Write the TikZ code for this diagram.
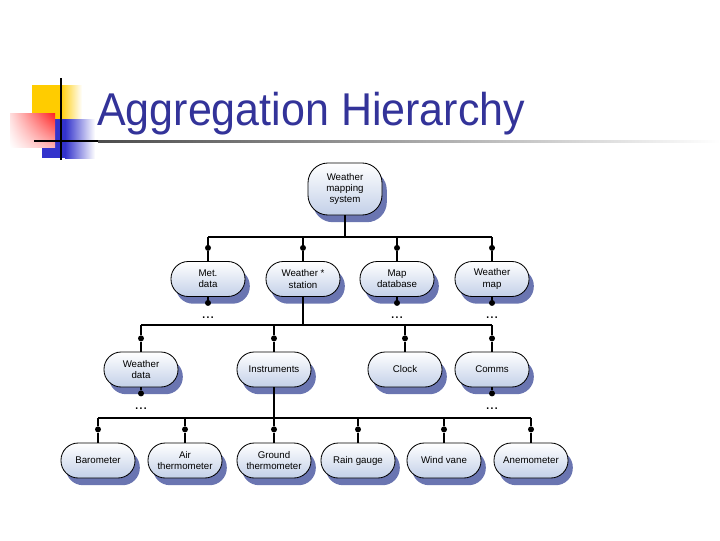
\documentclass[tikz,border=0pt]{standalone}
\usepackage{fontspec}
\setmainfont{Liberation Sans}
\usetikzlibrary{shadows,shadings}
\definecolor{titleblue}{HTML}{333399}
\definecolor{boxblue}{HTML}{C3D0E8}
\definecolor{shadowblue}{HTML}{5A66A8}
\definecolor{logoyellow}{HTML}{FFCC00}
\definecolor{logoblue}{HTML}{3333CC}
\definecolor{logored}{HTML}{FF2020}

\begin{document}
\begin{tikzpicture}[x=0.025cm, y=-0.025cm,
  part/.style={draw=black, line width=0.6pt, rounded corners=0.43cm,
    top color=white, bottom color=boxblue, minimum width=1.85cm,
    minimum height=0.875cm, align=center, inner sep=1pt,
    font=\fontsize{6.9}{8}\selectfont,
    drop shadow={shadow xshift=0.12cm, shadow yshift=-0.18cm, fill=shadowblue, opacity=0.9}},
  link/.style={line width=1pt},
  joint/.style={circle, fill=black, inner sep=0pt, minimum size=0.15cm},
  more/.style={font=\fontsize{11}{11}\selectfont, inner sep=0pt}]
  \useasboundingbox (0,0) rectangle (720,540);
  % Logo blocks
  \fill[logoyellow] (32,85) rectangle (60,119);
  \shade[left color=logoyellow, right color=white] (60,85) rectangle (82,119);
  \fill[logoblue] (42,119) rectangle (65,158);
  \shade[left color=logoblue, right color=white] (65,119) rectangle (95,158);
  \shade[upper left=logored!15, upper right=logored, lower left=white, lower right=logored!35] (10,113) rectangle (55,147);
  \draw[line width=2pt] (61,78) -- (61,160);
  \draw[line width=2pt] (34,141) -- (98,141);
  \shade[left color=gray!60!black, right color=white] (98,140) rectangle (720,142.5);
  % Title
  \node[anchor=base west, inner sep=0pt, text=titleblue, font=\fontsize{32.7}{36}\selectfont]
    (title) at (97,125) {\scalebox{0.935}[1]{Aggregation Hierarchy}};
  % Parts
  \node[part, minimum height=1.3cm, rounded corners=0.5cm] (wms) at (345,189) {Weather\\mapping\\system};
  \node[part] (met) at (208,279) {Met.\\data};
  \node[part] (station) at (303,279) {Weather *\\station};
  \node[part] (mapdb) at (397,279) {Map\\database};
  \node[part] (wmap) at (492,279) {Weather\\map};
  \node[part] (wdata) at (141,369.5) {Weather\\data};
  \node[part] (instr) at (274,369.5) {Instruments};
  \node[part] (clock) at (405,369.5) {Clock};
  \node[part] (comms) at (492,369.5) {Comms};
  \node[part] (baro) at (98,460.5) {Barometer};
  \node[part] (airth) at (185,460.5) {Air\\thermometer};
  \node[part] (groundth) at (274,460.5) {Ground\\thermometer};
  \node[part] (rain) at (358,460.5) {Rain gauge};
  \node[part] (vane) at (444,460.5) {Wind vane};
  \node[part] (anemo) at (531,460.5) {Anemometer};
  % Buses
  \coordinate (bus1) at (345,237);
  \coordinate (bus2) at (303,325);
  \coordinate (bus3) at (274,418);
  \draw[link] (wms) -- (bus1);
  \draw[link] (met.north |- bus1) -- (wmap.north |- bus1);
  \draw[link] (station) -- (bus2);
  \draw[link] (wdata.north |- bus2) -- (comms.north |- bus2);
  \draw[link] (instr) -- (bus3);
  \draw[link] (baro.north |- bus3) -- (anemo.north |- bus3);
  % Drops with joints
  \foreach \n/\b in {met/bus1, station/bus1, mapdb/bus1, wmap/bus1,
                     wdata/bus2, instr/bus2, clock/bus2, comms/bus2,
                     baro/bus3, airth/bus3, groundth/bus3, rain/bus3, vane/bus3, anemo/bus3} {
    \node[joint] (\n-top) at ([yshift=0.33cm]\n.north) {};
    \draw[link] (\n.north |- \b) -- (\n-top) -- (\n);
  }
  % Parts that go on further
  \foreach \n in {met, mapdb, wmap, wdata, comms} {
    \node[joint] (\n-bot) at ([yshift=-0.15cm]\n.south) {};
    \node[more] (\n-more) at ([yshift=-0.52cm]\n.south) {...};
    \draw[link] (\n) -- (\n-bot);
  }
\end{tikzpicture}
\end{document}
